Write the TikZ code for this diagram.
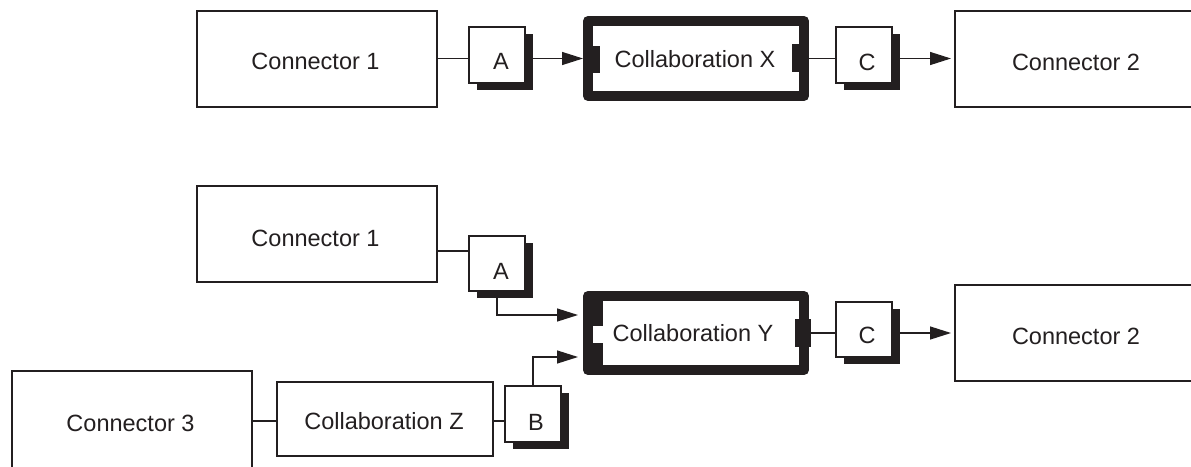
\documentclass[tikz,border=0pt]{standalone}
\usepackage{fontspec}
\setmainfont{Liberation Sans}
\usetikzlibrary{arrows.meta,shadows,calc}
\definecolor{ink}{HTML}{231F20}
\begin{document}
\begin{tikzpicture}[x=1pt,y=-1pt, color=ink, line width=1.3pt,
  txt/.style={inner sep=0pt, outer sep=0pt, text=ink, font=\fontsize{23.5}{28}\selectfont},
  plainbox/.style={draw=ink, fill=white, line width=1.3pt, inner sep=0pt, outer sep=0pt},
  portbox/.style={plainbox, minimum width=56pt, minimum height=56pt,
     general shadow={fill=ink, shadow xshift=7.5pt, shadow yshift=-7pt}},
  collab/.style={draw=ink, fill=white, line width=10pt, line join=round, inner sep=0pt,
     minimum width=216pt},
  tab/.style={fill=ink, draw=none},
  arr/.style={-{Triangle[length=21pt,width=13pt]}}]
\clip (0,0) rectangle (1191,466);
\fill[white] (0,0) rectangle (1191,466);

% ---------- top row ----------
\node[plainbox, minimum width=240pt, minimum height=96pt] (k1) at (317,59) {};
\node[txt] (k1t) at (315.5,61.5) {Connector 1};
\node[portbox] (a1) at (497,55) {};
\node[txt] (a1t) at (501,61.5) {A};
\node[collab, minimum height=75pt] (cx) at (696,58.5) {};
\fill[tab] (593,46) rectangle (600,73);
\fill[tab] (792,44) rectangle (799,72);
\node[txt] (cxt) at (695,59) {Collaboration X};
\node[portbox] (c1) at (864,55) {};
\node[txt] (c1t) at (867,62) {C};
\node[plainbox, minimum width=242pt, minimum height=96pt] (k2) at (1076,59) {};
\node[txt] (k2t) at (1076,62) {Connector 2};

\draw (k1.east |- cx.west) -- (a1.west |- cx.west);
\draw[arr] (a1.east |- cx.west) -- (cx.west);
\draw (cx.east) -- (c1.west |- cx.east);
\draw[arr, shorten >=4pt] (c1.east |- cx.east) -- (k2.west |- cx.east);

% ---------- bottom part ----------
\node[plainbox, minimum width=240pt, minimum height=96pt] (k1b) at (317,234) {};
\node[txt] (k1bt) at (315.5,238.5) {Connector 1};
\node[portbox, minimum height=55pt] (a2) at (497,263.5) {};
\node[txt] (a2t) at (501,271) {A};
\node[collab, minimum height=74pt] (cy) at (696,333) {};
\fill[tab] (593,301) rectangle (603,326);
\fill[tab] (593,343) rectangle (603,365);
\fill[tab] (795,319) rectangle (811,347);
\node[txt] (cyt) at (693,333) {Collaboration Y};
\node[portbox, minimum height=55pt] (c2) at (864,329.5) {};
\node[txt] (c2t) at (867,335.5) {C};
\node[plainbox, minimum width=242pt, minimum height=96pt] (k2b) at (1076,333) {};
\node[txt] (k2bt) at (1076,336) {Connector 2};

\node[plainbox, minimum width=240pt, minimum height=104pt] (k3) at (132,423) {};
\node[txt] (k3t) at (130.5,423) {Connector 3};
\node[plainbox, minimum width=216pt, minimum height=74pt] (cz) at (385,419) {};
\node[txt] (czt) at (384,421) {Collaboration Z};
\node[portbox] (b) at (533,414) {};
\node[txt] (bt) at (536,422.5) {B};

\draw (k1b.east |- 0,251) -- (a2.west |- 0,251);
\draw[arr, shorten >=5pt] (a2.south) |- (cy.west |- 0,315);
\draw[arr, shorten >=5pt] (b.north) |- (cy.west |- 0,357);
\draw (cy.east) -- (c2.west |- cy.east);
\draw[arr, shorten >=4pt] (c2.east |- cy.east) -- (k2b.west |- cy.east);
\draw (k3.east |- 0,421) -- (cz.west |- 0,421);
\draw (cz.east |- 0,421) -- (b.west |- 0,421);
\end{tikzpicture}
\end{document}
